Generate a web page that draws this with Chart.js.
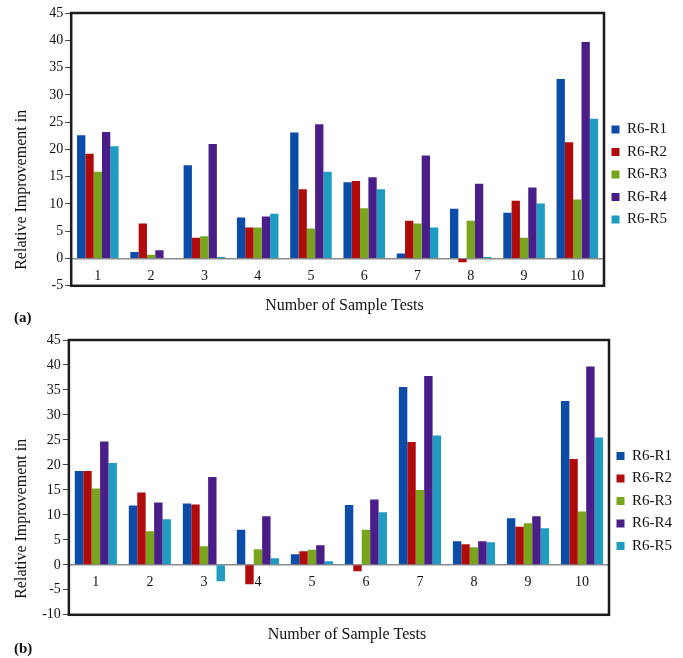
<!DOCTYPE html>
<html>
<head>
<meta charset="utf-8">
<script src="https://cdn.jsdelivr.net/npm/chart.js@4.4.0/dist/chart.umd.min.js"></script>
<style>
  body { margin: 0; background: #fff; width: 683px; height: 658px; overflow: hidden; position: relative; }
  .wrap { position: absolute; left: 0; width: 683px; }
  .tag { position: absolute; left: 14px; font: bold 15px "Liberation Serif", serif; color: #111; }
</style>
</head>
<body>
<div class="wrap" style="top:0;height:345px"><canvas id="chartA"></canvas></div>
<div class="wrap" style="top:325px;height:333px"><canvas id="chartB"></canvas></div>
<div class="tag" style="top:309px">(a)</div>
<div class="tag" style="top:640px">(b)</div>
<script>
const categories = ['1', '2', '3', '4', '5', '6', '7', '8', '9', '10'];
const seriesNames = ['R6-R1', 'R6-R2', 'R6-R3', 'R6-R4', 'R6-R5'];
const seriesColors = ['#0b4ca8', '#b00b0b', '#79a41e', '#4a1e88', '#1f9cc2'];

// panel (a)
const a_r1 = [22.6, 1.2, 17.1, 7.5, 23.1, 14.0, 0.9, 9.1, 8.4, 32.9];
const a_r2 = [19.2, 6.4, 3.8, 5.7, 12.7, 14.2, 6.9, -0.7, 10.6, 21.3];
const a_r3 = [15.9, 0.7, 4.1, 5.7, 5.5, 9.2, 6.4, 6.9, 3.8, 10.8];
const a_r4 = [23.2, 1.5, 21.0, 7.7, 24.6, 14.9, 18.9, 13.7, 13.0, 39.7];
const a_r5 = [20.6, 0.1, 0.3, 8.2, 15.9, 12.7, 5.7, 0.3, 10.1, 25.6];
const a_ticks = { min: -5, max: 45, step: 5 };

// panel (b)
const b_r1 = [18.8, 11.9, 12.3, 7.0, 2.1, 12.0, 35.6, 4.7, 9.3, 32.8];
const b_r2 = [18.8, 14.5, 12.1, -3.9, 2.7, -1.3, 24.6, 4.1, 7.6, 21.2];
const b_r3 = [15.3, 6.7, 3.7, 3.1, 3.0, 7.0, 15.0, 3.5, 8.3, 10.7];
const b_r4 = [24.7, 12.5, 17.6, 9.7, 3.9, 13.1, 37.8, 4.7, 9.7, 39.7];
const b_r5 = [20.4, 9.1, -3.3, 1.3, 0.7, 10.5, 25.9, 4.5, 7.3, 25.5];
const b_ticks = { min: -10, max: 45, step: 5 };

const serif = '"Liberation Serif", "Times New Roman", serif';

// thick frame round the plot area
const framePlugin = {
  id: 'frame',
  afterDraw(chart) {
    const { ctx, chartArea } = chart;
    ctx.save();
    ctx.strokeStyle = '#1c1c1c';
    ctx.lineWidth = 2.5;
    ctx.strokeRect(chartArea.left, chartArea.top, chartArea.right - chartArea.left, chartArea.bottom - chartArea.top);
    ctx.restore();
  }
};

function makeChart(id, rows, ticks, pad, ytitleGap, legendShift) {
  const datasets = rows.map((vals, i) => ({
    label: seriesNames[i],
    data: vals,
    backgroundColor: seriesColors[i],
    borderWidth: 0
  }));
  return new Chart(document.getElementById(id), {
    type: 'bar',
    data: { labels: categories, datasets: datasets },
    options: {
      responsive: true,
      maintainAspectRatio: false,
      animation: false,
      layout: { padding: pad },
      datasets: { bar: { categoryPercentage: 0.78, barPercentage: 1.0 } },
      plugins: {
        legend: {
          position: 'right',
          // empty title only pushes the items down a bit
          title: { display: true, text: '', font: { size: 10 }, padding: { top: 0, bottom: legendShift } },
          labels: { boxWidth: 8, boxHeight: 8, padding: 7.5, color: '#111', font: { family: serif, size: 15 } }
        },
        title: {
          display: true,
          position: 'bottom',
          text: 'Number of Sample Tests',
          color: '#111',
          font: { family: serif, size: 16, weight: 'normal' },
          padding: { top: 10, bottom: 0 }
        },
        tooltip: { enabled: false }
      },
      scales: {
        x: {
          position: { y: 0 },
          grid: { display: false, drawTicks: false },
          border: { color: '#8a8a8a', width: 1.5 },
          ticks: { color: '#111', padding: 9, font: { family: serif, size: 14 } }
        },
        y: {
          min: ticks.min,
          max: ticks.max,
          grid: { drawOnChartArea: false, drawTicks: true, tickLength: 6, color: '#444' },
          border: { display: false },
          ticks: { stepSize: ticks.step, color: '#111', padding: 2, font: { family: serif, size: 14 } },
          title: {
            display: true,
            align: 'start',
            text: '    Relative Improvement in',
            color: '#111',
            font: { family: serif, size: 16 },
            padding: { top: 0, bottom: ytitleGap }
          }
        }
      }
    },
    plugins: [framePlugin]
  });
}

makeChart('chartA', [a_r1, a_r2, a_r3, a_r4, a_r5], a_ticks, { left: 12, right: 6, top: 13, bottom: 30 }, 16, 9);
makeChart('chartB', [b_r1, b_r2, b_r3, b_r4, b_r5], b_ticks, { left: 12, right: 1, top: 15, bottom: 14 }, 9, 6);
</script>
</body>
</html>
